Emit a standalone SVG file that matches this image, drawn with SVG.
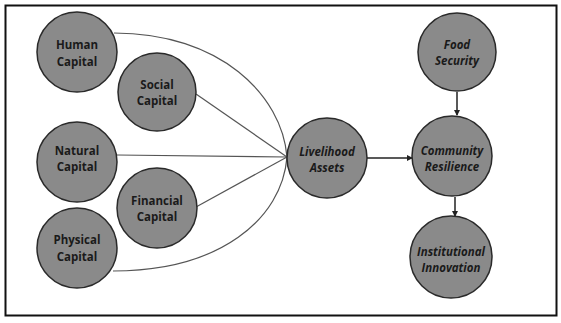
<svg xmlns="http://www.w3.org/2000/svg" width="561" height="323" viewBox="0 0 561 323">
<style>
.n circle{fill:#8a8a8a;stroke:#2a2a2a;stroke-width:1.5}
.n text{font-family:"Open Sans","Liberation Sans",sans-serif;font-weight:700;font-size:11.5px;fill:#1a1a1a;text-anchor:middle}
.n.i text{font-style:italic}
.c path{fill:none;stroke:#555;stroke-width:1.2}
.c .a{stroke:#222;stroke-width:1.5;marker-end:url(#ah)}
</style>
<defs>
<marker id="ah" markerWidth="6" markerHeight="6" refX="5" refY="3" orient="auto" markerUnits="userSpaceOnUse">
<path d="M0,0 L6,3 L0,6 Z" fill="#222"/>
</marker>
</defs>
<rect x="0" y="0" width="561" height="323" fill="#fff"/>
<rect x="5.5" y="5.5" width="551" height="310" fill="#fff" stroke="#111" stroke-width="2"/>
<g id="connectors" class="c">
<path d="M114,33 C220,33 282,95 287,157"/>
<path d="M113,271 C220,271 282,219 287,157"/>
<path d="M196,94 L287,157"/>
<path d="M117,155 L287,157"/>
<path d="M196,207 L287,157"/>
<path class="a" d="M367,158 L412,158"/>
<path class="a" d="M457,92 L457,115"/>
<path class="a" d="M455,197 L455,216"/>
</g>
<g id="human" class="n"><circle cx="77" cy="52" r="40"/><text x="77" y="49">Human</text><text x="77" y="66">Capital</text></g>
<g id="social" class="n"><circle cx="157" cy="92" r="39"/><text x="157" y="89">Social</text><text x="157" y="105">Capital</text></g>
<g id="natural" class="n"><circle cx="77" cy="162" r="40"/><text x="77" y="155">Natural</text><text x="77" y="171">Capital</text></g>
<g id="financial" class="n"><circle cx="157" cy="208" r="40"/><text x="157" y="205">Financial</text><text x="157" y="221">Capital</text></g>
<g id="physical" class="n"><circle cx="77" cy="248" r="40"/><text x="77" y="244">Physical</text><text x="77" y="261">Capital</text></g>
<g id="livelihood" class="n i"><circle cx="327" cy="158" r="40"/><text x="327" y="156">Livelihood</text><text x="327" y="172">Assets</text></g>
<g id="food" class="n i"><circle cx="457" cy="52" r="39"/><text x="457" y="49">Food</text><text x="457" y="65">Security</text></g>
<g id="community" class="n i"><circle cx="452" cy="156" r="40"/><text x="452" y="155">Community</text><text x="452" y="171">Resilience</text></g>
<g id="institutional" class="n i"><circle cx="451" cy="257" r="41"/><text x="451" y="256">Institutional</text><text x="451" y="272">Innovation</text></g>
</svg>
